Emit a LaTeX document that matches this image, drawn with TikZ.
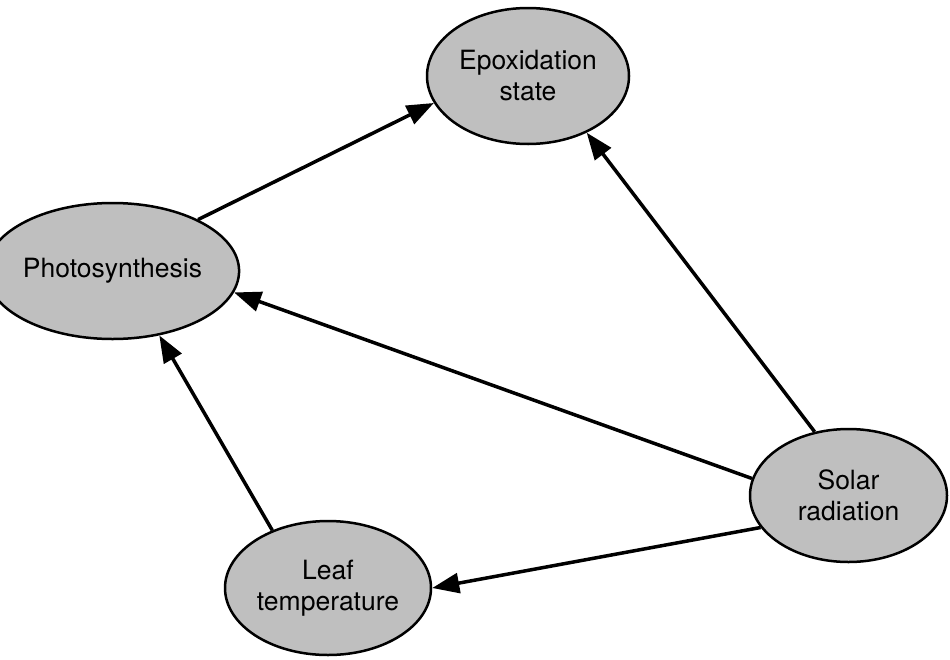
\documentclass[tikz,border=0pt]{standalone}
\usepackage{fontspec}
\setmainfont{TeX Gyre Heros}
\usetikzlibrary{shapes.geometric,arrows.meta}
\begin{document}
\begin{tikzpicture}[x=1pt,y=-1pt]
    \tikzstyle{bubble}=[ellipse,draw,line width=2.5pt,fill=black!25,inner sep=0pt,align=center,
                        font=\fontsize{26.5}{31}\selectfont]
    \tikzstyle{link}=[line width=3.5pt,-{Triangle[length=27pt,width=20pt]}]
    \useasboundingbox (0,0) rectangle (950,659);

    \node[bubble,minimum width=202pt,minimum height=136pt] (epox)  at (528,76)    {Epoxidation\\state};
    \node[bubble,minimum width=209pt,minimum height=136pt] (photo) at (112.5,271) {Photosynthesis};
    \node[bubble,minimum width=197pt,minimum height=133pt] (solar) at (848.5,495.5) {Solar\\radiation};
    \node[bubble,minimum width=206pt,minimum height=134pt] (leaf)  at (328,588)   {Leaf\\temperature};

    \draw[link] (photo.31)  -- (epox.196);
    \draw[link] (solar.118) -- (epox.316);
    \draw[link] (solar.170) -- (photo.350);
    \draw[link] (solar.200) -- (leaf.0);
    \draw[link] (leaf.134)  -- (photo.306);

\end{tikzpicture}
\end{document}
